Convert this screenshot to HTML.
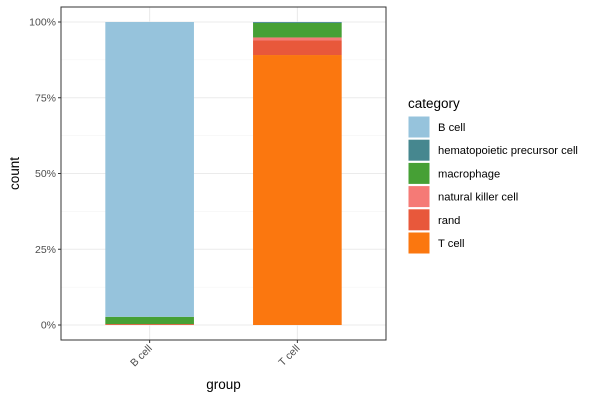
<!DOCTYPE html>
<html><head><meta charset="utf-8"><style>body{margin:0;background:#fff}svg{font-family:"Liberation Sans",Arial,sans-serif}</style></head>
<body>
<svg id="chart" width="600" height="400"></svg>
<script>
const groups = ["B cell", "T cell"];
const categories = ["B cell", "hematopoietic precursor cell", "macrophage", "natural killer cell", "rand", "T cell"];
const colors = ["#96c3dc", "#46878f", "#46a035", "#f57a76", "#e8583b", "#fb770f"];
const valsBcell = [97.3, 0, 2.4, 0, 0.3, 0];
const valsTcell = [0, 0.3, 4.8, 1.0, 4.8, 89.1];
const yTicks = [0, 25, 50, 75, 100];
const yTickLabels = ["0%", "25%", "50%", "75%", "100%"];
const series = [valsBcell, valsTcell];

const svg = document.getElementById('chart');
const NS = "http://www.w3.org/2000/svg";
const L = 61, R = 386, T = 7, B = 340;
const y0 = 325, y100 = 22;
function yS(v){ return y0 - (y0 - y100) * v / 100; }
const unit = (R - L) / 2.2;
function xS(i){ return L + (0.6 + i) * unit; }
function mk(tag, attrs, parent){ const e = document.createElementNS(NS, tag); for (const k in attrs) e.setAttribute(k, attrs[k]); (parent||svg).appendChild(e); return e; }

const panel = mk('rect', {x:L, y:T, width:R-L, height:B-T, fill:'#fff'});


for (let i = 0; i < yTicks.length - 1; i++) {
  const m = (yTicks[i] + yTicks[i+1]) / 2;
  const g = mk('line', {x1:L, x2:R, y1:yS(m), y2:yS(m), stroke:'#f2f2f2', 'stroke-width':0.6});
  
  
}
yTicks.forEach((t, i) => {
  const g = mk('line', {x1:L, x2:R, y1:yS(t), y2:yS(t), stroke:'#ebebeb', 'stroke-width':1.1});
  
  
  const tk = mk('line', {x1:L-3, x2:L, y1:yS(t), y2:yS(t), stroke:'#333', 'stroke-width':1});
  
  
  const tx = mk('text', {x:L-5, y:yS(t)+3.5, 'text-anchor':'end', 'font-size':10.5, fill:'#4d4d4d'});
  tx.textContent = yTickLabels[i];
  
  
});
groups.forEach((g, i) => {
  const gl = mk('line', {x1:xS(i), x2:xS(i), y1:T, y2:B, stroke:'#ebebeb', 'stroke-width':1.1});
  
  
});
groups.forEach((g, i) => {
  const vals = series[i];
  let cum = 0;
  const w = 0.6 * unit;
  for (let c = categories.length - 1; c >= 0; c--) {
    const v = vals[c];
    if (v <= 0) continue;
    const r = mk('rect', {x:xS(i)-w/2, y:yS(cum+v), width:w, height:yS(cum)-yS(cum+v), fill:colors[c]});
    
    
    cum += v;
  }
  const tk = mk('line', {x1:xS(i), x2:xS(i), y1:B, y2:B+3, stroke:'#333', 'stroke-width':1});
  
  
  const tx = mk('text', {x:xS(i)+3, y:B+9, 'text-anchor':'end', 'font-size':10.5, fill:'#4d4d4d', transform:`rotate(-45 ${xS(i)+3} ${B+9})`});
  tx.textContent = g;
  
  
});
const border = mk('rect', {x:L, y:T, width:R-L, height:B-T, fill:'none', stroke:'#333', 'stroke-width':1});


const xt = mk('text', {x:(L+R)/2, y:389, 'text-anchor':'middle', 'font-size':13.5, fill:'#000'});
xt.textContent = 'group';


const yt = mk('text', {x:19, y:(T+B)/2, 'text-anchor':'middle', 'font-size':13.5, fill:'#000', transform:`rotate(-90 19 ${(T+B)/2})`});
yt.textContent = 'count';


const lt = mk('text', {x:408, y:108, 'font-size':13.5, fill:'#000'});
lt.textContent = 'category';


categories.forEach((c, i) => {
  const y = 116 + i * 23.2;
  const k = mk('rect', {x:408, y:y, width:22, height:22, fill:colors[i], stroke:'#fff', 'stroke-width':1});
  
  
  const t = mk('text', {x:438, y:y+15, 'font-size':11.2, fill:'#000'});
  t.textContent = c;
  
  
});
</script>
</body></html>
